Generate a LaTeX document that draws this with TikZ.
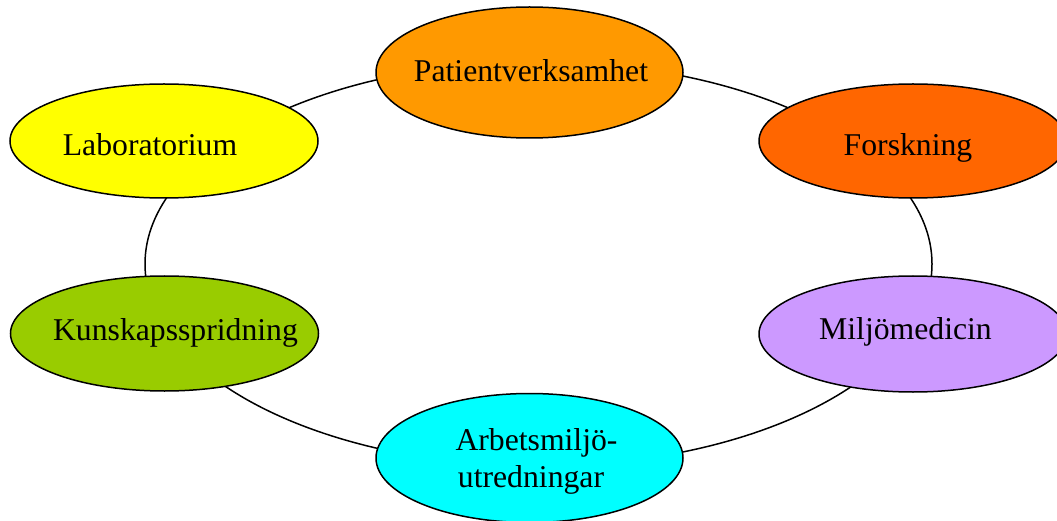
\documentclass[tikz,border=0pt]{standalone}
\usepackage{fontspec}
\setmainfont{Liberation Serif}
\usetikzlibrary{shapes.geometric}
\definecolor{cPat}{HTML}{FF9900}
\definecolor{cLab}{HTML}{FFFF00}
\definecolor{cFor}{HTML}{FF6600}
\definecolor{cKun}{HTML}{99CC00}
\definecolor{cMil}{HTML}{CC99FF}
\definecolor{cArb}{HTML}{00FFFF}
\tikzset{
  blob/.style={ellipse, draw=black, line width=1.5pt, inner sep=0pt, minimum width=308pt, minimum height=114pt},
  lbl/.style={anchor=base, inner sep=0pt, font=\fontsize{31.7}{37}\selectfont},
  ring/.style={draw=black, line width=1.5pt}
}
\begin{document}
\begin{tikzpicture}[x=1pt,y=-1pt]
\useasboundingbox (0,0) rectangle (1057,521);
\clip (0,0) rectangle (1057,521);
\draw[ring] (538.5,264) ellipse [x radius=393.5pt, y radius=202pt];
\node[blob, fill=cPat, minimum width=307pt, minimum height=131pt] (pat) at (529.5,72.5) {};
\node[blob, fill=cLab] (lab) at (164,141) {};
\node[blob, fill=cFor] (for) at (913,141) {};
\node[blob, fill=cKun, minimum height=115pt] (kun) at (164.5,333.5) {};
\node[blob, fill=cMil, minimum height=116pt] (mil) at (913,334) {};
\node[blob, fill=cArb, minimum width=307pt, minimum height=129pt] (arb) at (529.5,458) {};
\node[lbl] (patT) at (531,82) {Patientverksamhet};
\node[lbl] (labT) at (150,156) {Laboratorium};
\node[lbl] (forT) at (908,156) {Forskning};
\node[lbl] (kunT) at (175.5,340) {Kunskapsspridning};
\node[lbl] (milT) at (905.5,339) {Miljömedicin};
\node[lbl] (arbT1) at (536.5,450) {Arbetsmiljö-};
\node[lbl] (arbT2) at (531,487) {utredningar};
\end{tikzpicture}
\end{document}
